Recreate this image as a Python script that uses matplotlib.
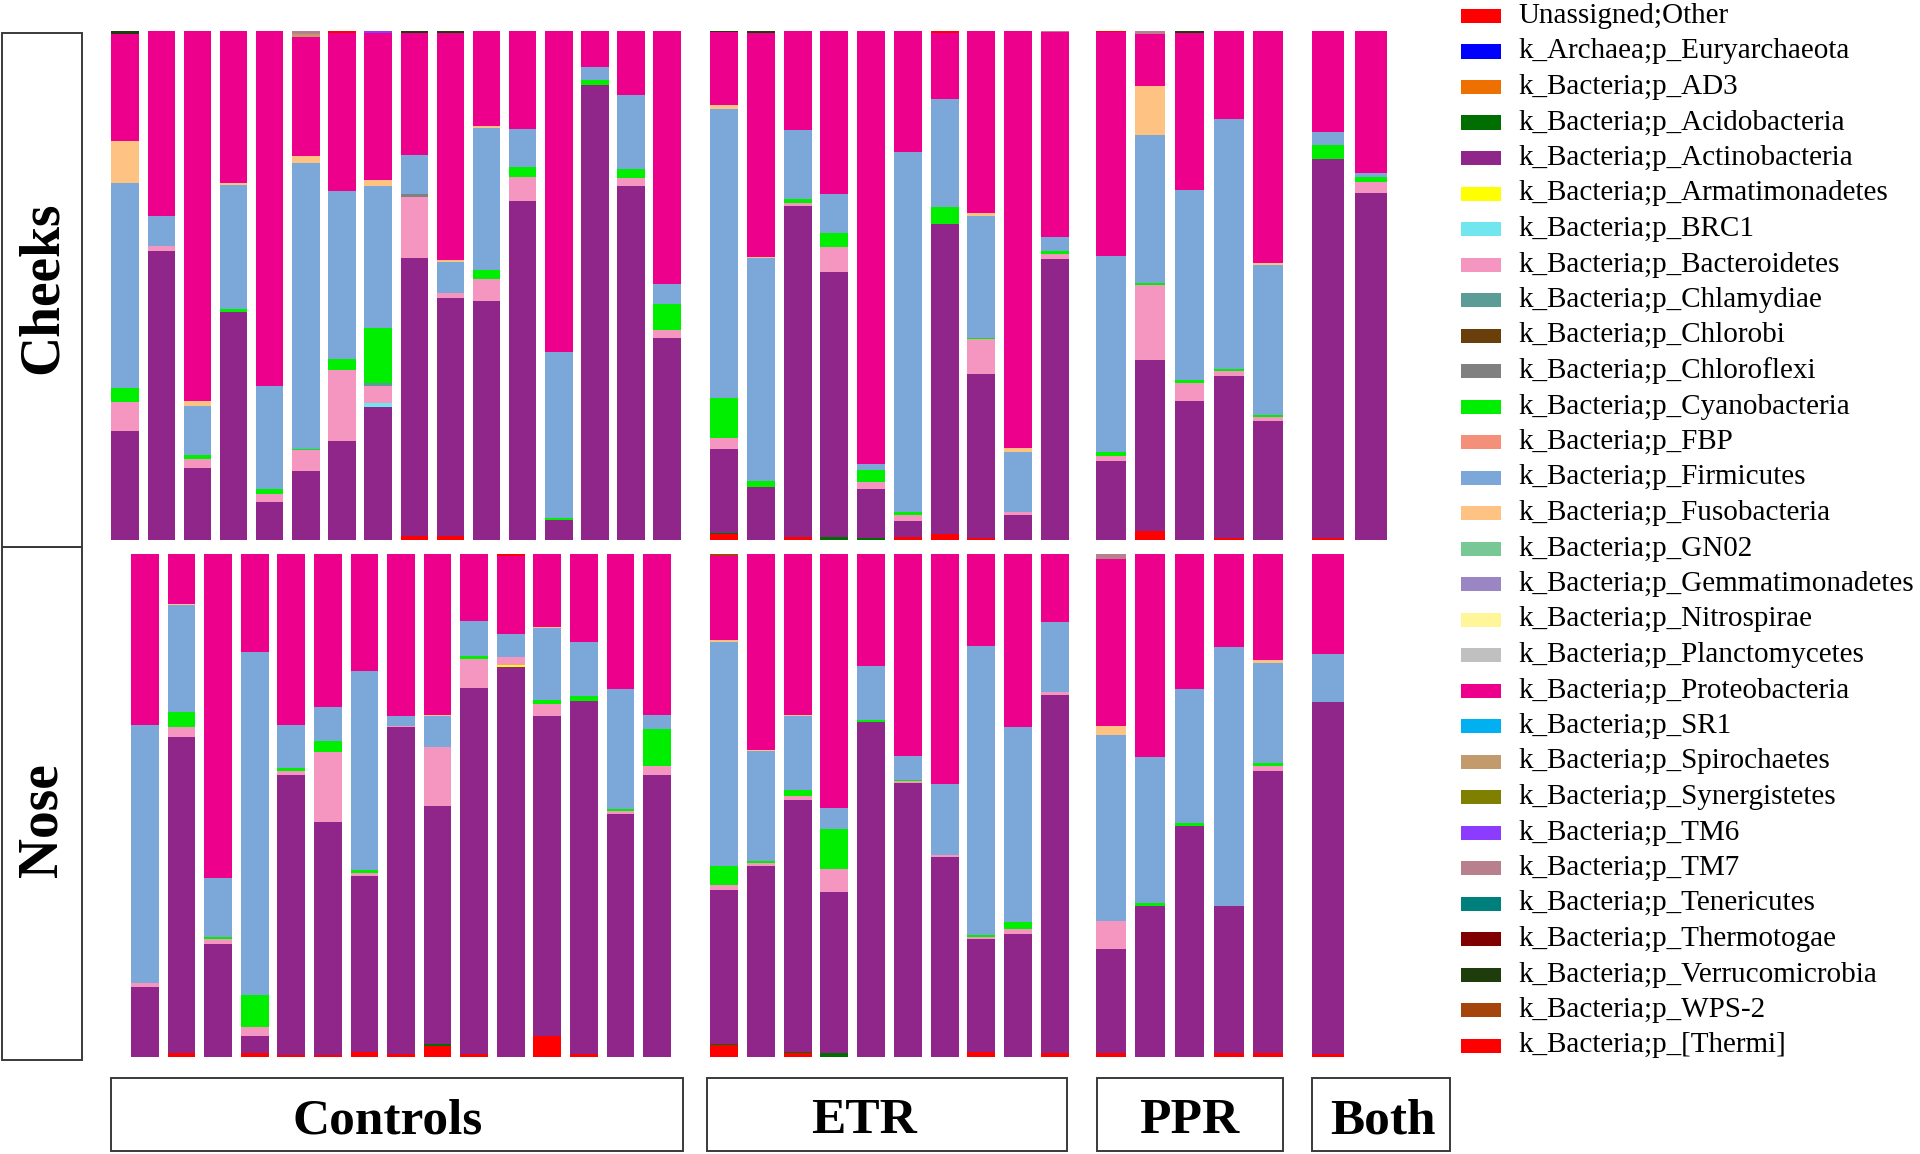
import matplotlib
matplotlib.use('Agg')
import matplotlib.pyplot as plt
from matplotlib.patches import Rectangle
import numpy as np

W, H = 1920, 1154
plt.rcParams['font.family'] = ['Liberation Serif', 'DejaVu Serif']

phyla = ['Unassigned;Other', 'k_Archaea;p_Euryarchaeota', 'k_Bacteria;p_AD3',
         'k_Bacteria;p_Acidobacteria', 'k_Bacteria;p_Actinobacteria',
         'k_Bacteria;p_Armatimonadetes', 'k_Bacteria;p_BRC1', 'k_Bacteria;p_Bacteroidetes',
         'k_Bacteria;p_Chlamydiae', 'k_Bacteria;p_Chlorobi', 'k_Bacteria;p_Chloroflexi',
         'k_Bacteria;p_Cyanobacteria', 'k_Bacteria;p_FBP', 'k_Bacteria;p_Firmicutes',
         'k_Bacteria;p_Fusobacteria', 'k_Bacteria;p_GN02', 'k_Bacteria;p_Gemmatimonadetes',
         'k_Bacteria;p_Nitrospirae', 'k_Bacteria;p_Planctomycetes',
         'k_Bacteria;p_Proteobacteria', 'k_Bacteria;p_SR1', 'k_Bacteria;p_Spirochaetes',
         'k_Bacteria;p_Synergistetes', 'k_Bacteria;p_TM6', 'k_Bacteria;p_TM7',
         'k_Bacteria;p_Tenericutes', 'k_Bacteria;p_Thermotogae',
         'k_Bacteria;p_Verrucomicrobia', 'k_Bacteria;p_WPS-2', 'k_Bacteria;p_[Thermi]']
colors = ['#FF0000', '#0000FF', '#EE7000', '#006E00', '#90268A', '#FFFF00', '#72E6EE',
          '#F596C0', '#5B9C96', '#6B3F0C', '#808080', '#00EE00', '#F4907A', '#7CA7D9',
          '#FEC383', '#78C896', '#9A86C2', '#FFF69A', '#C0C0C0', '#EC008C', '#00B0F0',
          '#C39A6B', '#808000', '#8C3CFF', '#B8808C', '#00807C', '#800000', '#1F3D0C',
          '#A5450C', '#FF0000']

groups = ['Controls', 'ETR', 'PPR', 'Both']
cheeks_sizes = [16, 10, 5, 2]
nose_sizes = [15, 10, 5, 1]

# ---------------- Cheeks (Controls 16 | ETR 10 | PPR 5 | Both 2) ----------------
cheeks_unassigned = [0, 0, 0, 0, 0, 0, 0, 0, 0.7, 0.7, 0, 0, 0, 0, 0, 0,
                     1.1, 0, 0.5, 0, 0, 0.5, 1.1, 0.3, 0, 0,
                     0, 1.8, 0, 0.3, 0,
                     0.3, 0]
cheeks_acidobacteria = [0, 0, 0, 0, 0, 0, 0, 0, 0, 0, 0, 0, 0, 0, 0, 0,
                        0.3, 0, 0, 0.6, 0.3, 0, 0, 0, 0, 0,
                        0, 0, 0, 0, 0,
                        0, 0]
cheeks_actinobacteria = [21.3, 56.7, 14.2, 44.8, 7.4, 13.6, 19.5, 26.1, 54.6, 46.8, 47.0, 66.6, 4.0, 89.3, 69.4, 39.7,
                         16.4, 10.4, 65.0, 52.1, 9.8, 3.3, 60.9, 32.3, 5.0, 55.2,
                         15.6, 33.5, 27.2, 31.9, 23.4,
                         74.4, 68.1]
cheeks_brc1 = [0, 0, 0, 0, 0, 0, 0, 0.7, 0, 0, 0, 0, 0, 0, 0, 0,
               0, 0, 0, 0, 0, 0, 0, 0, 0, 0,
               0, 0, 0, 0, 0,
               0, 0]
cheeks_bacteroidetes = [5.7, 1.0, 1.7, 0, 1.7, 4.0, 13.9, 3.5, 12.1, 0.9, 4.3, 4.6, 0, 0, 1.7, 1.5,
                        2.2, 0, 0.7, 4.8, 1.3, 1.2, 0, 6.8, 0.5, 0.9,
                        0.9, 14.8, 3.6, 0.9, 0.7,
                        0, 2.1]
cheeks_chlamydiae = [0, 0, 0, 0, 0, 0, 0, 0.6, 0, 0, 0, 0, 0, 0, 0, 0,
                     0, 0, 0, 0, 0, 0, 0, 0, 0, 0,
                     0, 0, 0, 0, 0,
                     0, 0]
cheeks_chloroflexi = [0, 0, 0, 0, 0, 0, 0, 0, 0.5, 0, 0, 0, 0, 0, 0, 0,
                      0, 0, 0, 0, 0, 0, 0, 0, 0, 0,
                      0, 0, 0, 0, 0,
                      0, 0]
cheeks_cyanobacteria = [2.8, 0, 0.8, 0.5, 0.9, 0.3, 2.1, 10.7, 0, 0, 1.8, 2.1, 0.3, 1.0, 1.7, 5.2,
                        7.8, 1.2, 0.7, 2.7, 2.3, 0.5, 3.3, 0.3, 0, 0.6,
                        0.8, 0.3, 0.7, 0.5, 0.5,
                        2.8, 1.0]
cheeks_firmicutes = [40.3, 6.0, 9.6, 24.3, 20.2, 56.1, 33.0, 27.8, 7.6, 6.1, 27.7, 7.4, 32.7, 2.5, 14.6, 3.8,
                     56.8, 43.7, 13.6, 7.8, 1.2, 70.7, 21.2, 23.9, 11.7, 2.7,
                     38.4, 29.2, 37.3, 49.0, 29.4,
                     2.5, 0.8]
cheeks_fusobacteria = [8.1, 0, 1.0, 0.4, 0, 1.3, 0, 1.2, 0, 0.5, 0.4, 0, 0, 0, 0, 0,
                       0.7, 0.3, 0, 0, 0, 0, 0, 0.5, 0.9, 0,
                       0, 9.6, 0, 0, 0.3,
                       0, 0]
cheeks_proteobacteria = [21.1, 36.3, 72.7, 30.0, 69.8, 23.5, 31.0, 28.9, 24.1, 44.6, 18.8, 19.3, 63.0, 7.2, 12.6, 49.8,
                         14.4, 44.0, 19.5, 32.0, 85.1, 23.8, 13.0, 35.9, 81.9, 40.3,
                         44.0, 10.2, 30.7, 17.4, 45.7,
                         20.0, 28.0]
cheeks_spirochaetes = [0, 0, 0, 0, 0, 0.5, 0, 0, 0, 0, 0, 0, 0, 0, 0, 0,
                       0, 0, 0, 0, 0, 0, 0, 0, 0, 0,
                       0, 0, 0, 0, 0,
                       0, 0]
cheeks_tm6 = [0, 0, 0, 0, 0, 0, 0, 0.5, 0, 0, 0, 0, 0, 0, 0, 0,
              0, 0, 0, 0, 0, 0, 0, 0, 0, 0,
              0, 0, 0, 0, 0,
              0, 0]
cheeks_tm7 = [0, 0, 0, 0, 0, 0.7, 0, 0, 0, 0, 0, 0, 0, 0, 0, 0,
              0, 0, 0, 0, 0, 0, 0, 0, 0, 0.3,
              0, 0.6, 0, 0, 0,
              0, 0]
cheeks_verrucomicrobia = [0.6, 0, 0, 0, 0, 0, 0, 0, 0.4, 0.4, 0, 0, 0, 0, 0, 0,
                          0.3, 0.4, 0, 0, 0, 0, 0, 0, 0, 0,
                          0, 0, 0.5, 0, 0,
                          0, 0]
cheeks_thermi = [0, 0, 0, 0, 0, 0, 0.5, 0, 0, 0, 0, 0, 0, 0, 0, 0,
                 0, 0, 0, 0, 0, 0, 0.5, 0, 0, 0,
                 0.3, 0, 0, 0, 0,
                 0, 0]

# ---------------- Nose (Controls 15 | ETR 10 | PPR 5 | Both 1) ----------------
nose_unassigned = [0, 0.7, 0, 0.7, 0.3, 0.3, 0.9, 0.5, 2.1, 0.5, 0, 4.1, 0.5, 0, 0,
                   2.3, 0, 0.7, 0, 0, 0, 0, 1.0, 0, 0.7,
                   0.7, 0, 0, 0.8, 0.7,
                   0.5]
nose_acidobacteria = [0, 0, 0, 0, 0, 0, 0, 0, 0.5, 0, 0, 0, 0, 0, 0,
                      0.3, 0, 0.2, 0.7, 0, 0, 0, 0, 0, 0,
                      0, 0, 0, 0, 0,
                      0]
nose_actinobacteria = [14.0, 62.9, 22.4, 3.5, 55.7, 46.3, 35.1, 65.0, 47.3, 72.7, 77.5, 63.7, 70.2, 48.3, 56.1,
                       30.6, 38.0, 50.1, 32.0, 66.5, 54.4, 39.8, 22.5, 24.4, 71.2,
                       20.8, 29.9, 45.9, 29.2, 56.1,
                       70.0]
nose_armatimonadetes = [0, 0, 0, 0, 0, 0, 0, 0, 0, 0, 0.4, 0, 0, 0, 0,
                        0, 0, 0, 0, 0, 0, 0, 0, 0, 0,
                        0, 0, 0, 0, 0,
                        0]
nose_bacteroidetes = [0.7, 1.9, 1.1, 1.7, 0.9, 14.0, 0.5, 0.3, 11.6, 5.9, 1.5, 2.3, 0, 0.5, 1.7,
                      1.0, 0.5, 0.9, 4.7, 0, 0.4, 0.4, 0.4, 1.1, 0.5,
                      5.6, 0, 0, 0, 0.9,
                      0]
nose_cyanobacteria = [0, 3.0, 0.3, 6.5, 0.4, 2.2, 0.7, 0, 0, 0.5, 0, 0.9, 0.9, 0.4, 7.4,
                      3.7, 0.5, 1.1, 7.8, 0.5, 0.3, 0, 0.3, 1.3, 0,
                      0, 0.7, 0.5, 0, 0.7,
                      0]
nose_firmicutes = [51.3, 21.2, 11.7, 68.0, 8.6, 6.7, 39.5, 1.9, 6.2, 7.0, 4.7, 14.2, 10.8, 23.9, 2.7,
                   44.5, 21.8, 14.7, 4.2, 10.7, 4.6, 14.1, 57.4, 38.8, 14.0,
                   36.9, 29.0, 26.7, 51.5, 19.9,
                   9.5]
nose_fusobacteria = [0, 0.2, 0, 0, 0, 0, 0, 0, 0.2, 0, 0, 0.2, 0, 0, 0,
                     0.5, 0.2, 0.2, 0, 0, 0, 0, 0, 0, 0,
                     1.7, 0, 0, 0, 0.5,
                     0]
nose_proteobacteria = [34.0, 10.1, 64.5, 19.6, 34.1, 30.5, 23.3, 32.3, 32.1, 13.4, 15.5, 14.6, 17.6, 26.9, 32.1,
                       16.7, 39.0, 32.1, 50.6, 22.3, 40.3, 45.7, 18.4, 34.4, 13.6,
                       33.2, 40.4, 26.9, 18.5, 21.2,
                       20.0]
nose_tm7 = [0, 0, 0, 0, 0, 0, 0, 0, 0, 0, 0, 0, 0, 0, 0,
            0, 0, 0, 0, 0, 0, 0, 0, 0, 0,
            1.1, 0, 0, 0, 0,
            0]
nose_wps2 = [0, 0, 0, 0, 0, 0, 0, 0, 0, 0, 0, 0, 0, 0, 0,
             0.4, 0, 0, 0, 0, 0, 0, 0, 0, 0,
             0, 0, 0, 0, 0,
             0]
nose_thermi = [0, 0, 0, 0, 0, 0, 0, 0, 0, 0, 0.4, 0, 0, 0, 0,
               0, 0, 0, 0, 0, 0, 0, 0, 0, 0,
               0, 0, 0, 0, 0,
               0]

cheeks_data = {
    'Unassigned;Other': cheeks_unassigned,
    'k_Bacteria;p_Acidobacteria': cheeks_acidobacteria,
    'k_Bacteria;p_Actinobacteria': cheeks_actinobacteria,
    'k_Bacteria;p_BRC1': cheeks_brc1,
    'k_Bacteria;p_Bacteroidetes': cheeks_bacteroidetes,
    'k_Bacteria;p_Chlamydiae': cheeks_chlamydiae,
    'k_Bacteria;p_Chloroflexi': cheeks_chloroflexi,
    'k_Bacteria;p_Cyanobacteria': cheeks_cyanobacteria,
    'k_Bacteria;p_Firmicutes': cheeks_firmicutes,
    'k_Bacteria;p_Fusobacteria': cheeks_fusobacteria,
    'k_Bacteria;p_Proteobacteria': cheeks_proteobacteria,
    'k_Bacteria;p_Spirochaetes': cheeks_spirochaetes,
    'k_Bacteria;p_TM6': cheeks_tm6,
    'k_Bacteria;p_TM7': cheeks_tm7,
    'k_Bacteria;p_Verrucomicrobia': cheeks_verrucomicrobia,
    'k_Bacteria;p_[Thermi]': cheeks_thermi,
}
nose_data = {
    'Unassigned;Other': nose_unassigned,
    'k_Bacteria;p_Acidobacteria': nose_acidobacteria,
    'k_Bacteria;p_Actinobacteria': nose_actinobacteria,
    'k_Bacteria;p_Armatimonadetes': nose_armatimonadetes,
    'k_Bacteria;p_Bacteroidetes': nose_bacteroidetes,
    'k_Bacteria;p_Cyanobacteria': nose_cyanobacteria,
    'k_Bacteria;p_Firmicutes': nose_firmicutes,
    'k_Bacteria;p_Fusobacteria': nose_fusobacteria,
    'k_Bacteria;p_Proteobacteria': nose_proteobacteria,
    'k_Bacteria;p_TM7': nose_tm7,
    'k_Bacteria;p_WPS-2': nose_wps2,
    'k_Bacteria;p_[Thermi]': nose_thermi,
}

# ---------------- layout (pixels) ----------------
fig = plt.figure(figsize=(W / 100, H / 100), dpi=100)

def fx(px):
    return px / W

def fy(py):
    return 1 - py / H

panel_x = {
    'cheeks': [(107.1, 685.3), (705.6, 1073.4), (1091.3, 1287.7), (1306.9, 1392.1)],
    'nose':   [(126.6, 675.4), (705.6, 1073.4), (1091.3, 1287.7), (1306.9, 1392.1)],
}
panel_slots = {'cheeks': [16, 10, 5, 2], 'nose': [15, 10, 5, 2]}
row_y = {'cheeks': (30.6, 540.0), 'nose': (553.5, 1057.0)}
bar_width = 0.76

def draw_row(key, data, sizes):
    n_total = sum(sizes)
    mat = np.zeros((len(phyla), n_total))
    for i, p in enumerate(phyla):
        if p in data:
            mat[i] = np.array(data[p], dtype=float)
    mat = mat / mat.sum(axis=0, keepdims=True) * 100
    start = 0
    y0, y1 = row_y[key]
    for g, n in enumerate(sizes):
        x0, x1 = panel_x[key][g]
        ax = fig.add_axes([fx(x0), fy(y1), fx(x1) - fx(x0), (y1 - y0) / H])
        sub = mat[:, start:start + n]
        xs = np.arange(n)
        bottom = np.zeros(n)
        for i, p in enumerate(phyla):
            vals = sub[i]
            if vals.sum() > 0:
                ax.bar(xs, vals, bar_width, bottom=bottom, color=colors[i], linewidth=0)
            bottom += vals
        ax.set_xlim(-0.5, panel_slots[key][g] - 0.5)
        ax.set_ylim(0, 100)
        ax.axis('off')
        start += n

draw_row('cheeks', cheeks_data, cheeks_sizes)
draw_row('nose', nose_data, nose_sizes)

# ---------------- row label boxes ----------------
def box(x0, y0, x1, y1, lw=1.4, ec='#3a3a3a'):
    fig.add_artist(Rectangle((fx(x0), fy(y1)), fx(x1) - fx(x0), (y1 - y0) / H,
                             transform=fig.transFigure, fill=False, ec=ec, lw=lw))

box(2, 33, 82, 547)
box(2, 547, 82, 1060)
fig.text(fx(43), fy(288), 'Cheeks', rotation=90, ha='center', va='center',
         fontsize=40, fontweight='bold')
fig.text(fx(43), fy(820), 'Nose', rotation=90, ha='center', va='center',
         fontsize=40, fontweight='bold')

# ---------------- group label boxes ----------------
group_boxes = [(111, 683), (707, 1067), (1097, 1283), (1312, 1450)]
group_text_x = [388, 864, 1189, 1383]
for name, (bx0, bx1), tx in zip(groups, group_boxes, group_text_x):
    box(bx0, 1078, bx1, 1151)
    fig.text(fx(tx), fy(1121), name, ha='center', va='center',
             fontsize=37, fontweight='bold')

# ---------------- legend ----------------
leg_y0, leg_dy = 16, 35.5
for i, (p, c) in enumerate(zip(phyla, colors)):
    yc = leg_y0 + i * leg_dy
    fig.add_artist(Rectangle((fx(1461), fy(yc + 7)), fx(1501) - fx(1461), 14 / H,
                             transform=fig.transFigure, color=c, lw=0))
    fig.text(fx(1518), fy(yc), p, ha='left', va='center', fontsize=21)

fig.savefig('out.png', dpi=100, facecolor='white')
